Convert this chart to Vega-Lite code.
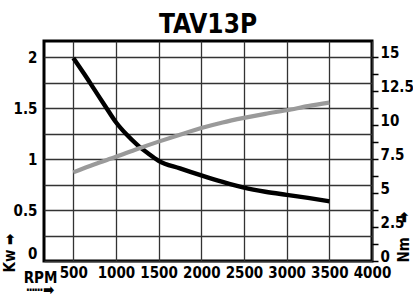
{
  "$schema": "https://vega.github.io/schema/vega-lite/v6.json",
  "autosize": {"type": "none"},
  "padding": {"left": 44, "top": 41, "right": 41, "bottom": 34},
  "width": 328,
  "height": 220,
  "background": "white",
  "title": {
    "text": "TAV13P",
    "font": "'Liberation Sans Narrow', 'DejaVu Sans Condensed', sans-serif",
    "fontSize": 26,
    "fontWeight": "bold",
    "color": "black",
    "anchor": "middle",
    "frame": "group",
    "baseline": "alphabetic",
    "offset": 9,
    "dy": 27
  },
  "config": {
    "view": {"stroke": "black", "strokeWidth": 3},
    "axis": {
      "labelFont": "'Liberation Sans Narrow', 'DejaVu Sans Condensed', sans-serif",
      "labelFontSize": 15,
      "labelFontWeight": "bold",
      "labelColor": "black",
      "titleFont": "'Liberation Sans Narrow', 'DejaVu Sans Condensed', sans-serif",
      "titleFontSize": 15,
      "titleFontWeight": "bold",
      "titleColor": "black",
      "domain": false,
      "gridColor": "#333333",
      "gridWidth": 1.3,
      "gridOpacity": 1,
      "labelOverlap": false
    }
  },
  "layer": [
    {
      "data": {"values": [
        {"rpm": 500, "nm": 14.95},
        {"rpm": 625, "nm": 13.8},
        {"rpm": 750, "nm": 12.6},
        {"rpm": 875, "nm": 11.4},
        {"rpm": 1000, "nm": 10.22},
        {"rpm": 1125, "nm": 9.31},
        {"rpm": 1250, "nm": 8.55},
        {"rpm": 1375, "nm": 7.93},
        {"rpm": 1500, "nm": 7.38},
        {"rpm": 1750, "nm": 6.82},
        {"rpm": 2000, "nm": 6.3},
        {"rpm": 2250, "nm": 5.82},
        {"rpm": 2500, "nm": 5.4},
        {"rpm": 2750, "nm": 5.1},
        {"rpm": 3000, "nm": 4.87},
        {"rpm": 3250, "nm": 4.65},
        {"rpm": 3500, "nm": 4.4}
      ]},
      "mark": {"type": "line", "color": "black", "strokeWidth": 4.4, "interpolate": "monotone"},
      "encoding": {
        "x": {
          "field": "rpm", "type": "quantitative",
          "scale": {"domain": [157, 4000], "nice": false, "zero": false},
          "axis": {
            "values": [500, 1000, 1500, 2000, 2500, 3000, 3500, 4000],
            "format": "d",
            "ticks": false,
            "labelPadding": 4,
            "labelFlush": false,
            "grid": true,
            "title": ["RPM", "┅┅➡"],
            "titleX": -4,
            "titleY": 21,
            "titleAlign": "center",
            "titleBaseline": "alphabetic",
            "titleFontSize": 15,
            "titleLineHeight": 12
          }
        },
        "y": {
          "field": "nm", "type": "quantitative",
          "scale": {"domain": [0, 16.2], "nice": false},
          "axis": {
            "orient": "right",
            "values": [0, 1.25, 2.5, 3.75, 5, 6.25, 7.5, 8.75, 10, 11.25, 12.5, 13.75, 15],
            "format": ".3~g",
            "labelExpr": "datum.value % 2.5 == 0 ? datum.label : ''",
            "grid": false,
            "ticks": true,
            "tickSize": 6,
            "tickWidth": 1.5,
            "tickColor": "black",
            "labelPadding": 2,
            "labelBaseline": "alphabetic",
            "title": "Nm\u00a0\u00a0\u00a0➡",
            "titleAngle": 270,
            "titleAlign": "left",
            "titleBaseline": "alphabetic",
            "titleX": 36,
            "titleY": 221
          }
        }
      }
    },
    {
      "data": {"values": [
        {"rpm": 500, "kw": 0.87},
        {"rpm": 750, "kw": 0.95},
        {"rpm": 1000, "kw": 1.023},
        {"rpm": 1250, "kw": 1.1},
        {"rpm": 1500, "kw": 1.172},
        {"rpm": 1750, "kw": 1.24},
        {"rpm": 2000, "kw": 1.305},
        {"rpm": 2250, "kw": 1.36},
        {"rpm": 2500, "kw": 1.405},
        {"rpm": 2750, "kw": 1.445},
        {"rpm": 3000, "kw": 1.48},
        {"rpm": 3250, "kw": 1.52},
        {"rpm": 3500, "kw": 1.555}
      ]},
      "mark": {"type": "line", "color": "#9a9a9a", "strokeWidth": 4.2, "interpolate": "monotone"},
      "encoding": {
        "x": {"field": "rpm", "type": "quantitative"},
        "y": {
          "field": "kw", "type": "quantitative",
          "scale": {"domain": [0, 2.16], "nice": false},
          "axis": {
            "orient": "left",
            "values": [0, 0.25, 0.5, 0.75, 1, 1.25, 1.5, 1.75, 2],
            "format": ".3~g",
            "labelExpr": "datum.value % 0.5 == 0 ? datum.label : ''",
            "grid": true,
            "ticks": false,
            "labelPadding": 7,
            "labelFlush": true,
            "title": "Kw\u00a0➡",
            "titleAngle": 270,
            "titleAlign": "left",
            "titleBaseline": "alphabetic",
            "titleX": -30,
            "titleY": 231
          }
        }
      }
    }
  ],
  "resolve": {"scale": {"y": "independent"}}
}
